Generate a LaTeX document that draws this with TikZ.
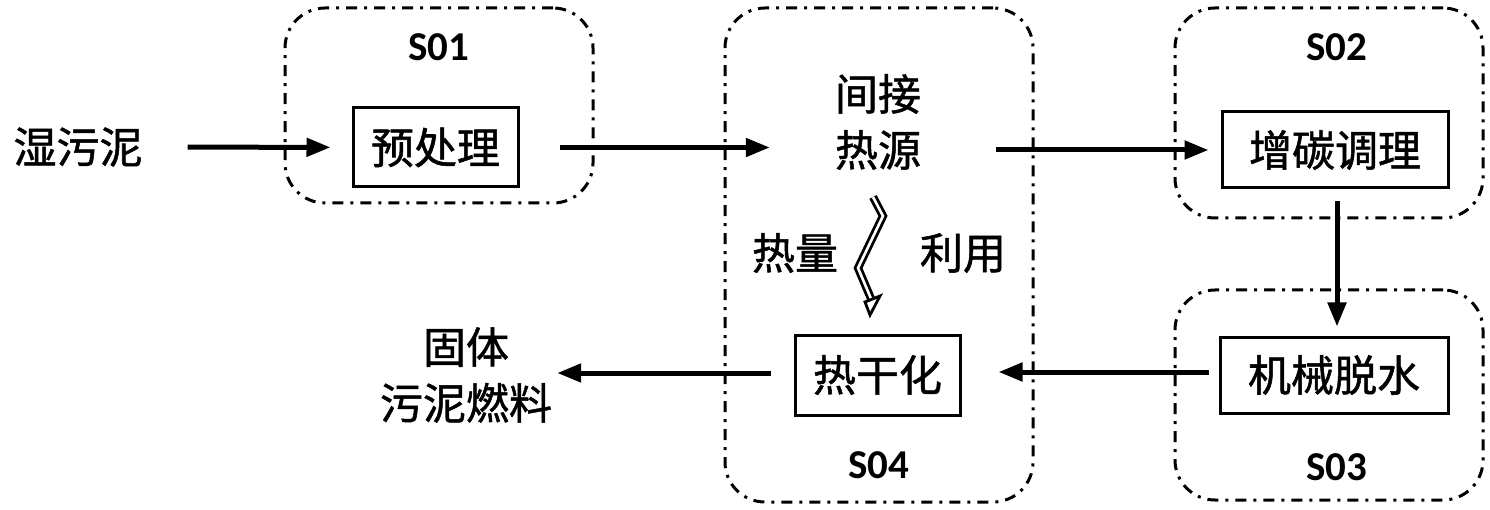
\documentclass[tikz,border=0pt]{standalone}
\usepackage{fontspec}
\setmainfont{Carlito}
\newfontfamily\cjk[FakeBold=1.2]{Noto Sans CJK SC}
\usetikzlibrary{arrows.meta}

\begin{document}
\begin{tikzpicture}[x=1pt,y=-1pt,
	stage/.style={draw,line width=3pt,rounded corners=40pt,dash pattern=on 11pt off 7pt on 3pt off 7pt,inner sep=0pt},
	proc/.style={draw,line width=3pt,inner sep=0pt,font=\cjk\fontsize{43}{56}\selectfont},
	word/.style={inner sep=0pt,align=center,font=\cjk\fontsize{43}{56}\selectfont},
	tag/.style={font=\fontsize{41}{48}\selectfont\bfseries},
	flow/.style={line width=5pt,-{Triangle[length=24pt,width=18pt]}},
	heat/.style={double=white,double distance=2.6pt,line width=2.8pt,line join=miter}]
			\useasboundingbox (0,0) rectangle (1490,510);
			% stages
			\node[stage,minimum width=308,minimum height=195] (s01) at (439,105.5) {};
			\node[stage,minimum width=308,minimum height=494] (s04) at (879,255) {};
			\node[stage,minimum width=308,minimum height=210] (s02) at (1329,113) {};
			\node[stage,minimum width=308,minimum height=210] (s03) at (1329,395) {};
			\node[tag] (t01) at (439,47) {S01};
			\node[tag] (t04) at (879,465) {S04};
			\node[tag] (t02) at (1337,47) {S02};
			\node[tag] (t03) at (1337,467) {S03};
			% steps
			\node[word] (wet) at (78,147) {湿污泥};
			\node[proc,minimum width=165,minimum height=79] (pre) at (435.5,147.5) {预处理};
			\node[word] (src) at (878,122) {间接\\热源};
			\node[proc,minimum width=226,minimum height=76] (carb) at (1335,150) {增碳调理};
			\node[proc,minimum width=228,minimum height=76] (dew) at (1334,375) {机械脱水};
			\node[proc,minimum width=165,minimum height=80] (dry) at (877.5,375) {热干化};
			\node[word] (fuel) at (466,375) {固体\\污泥燃料};
			\node[word] (use1) at (795,253) {热量};
			\node[word] (use2) at (963,253) {利用};
			% arrows
			\draw[flow,shorten <=45pt,shorten >=21pt] (wet) -- (pre);
			\draw[flow,shorten <=40pt,shorten >=65pt] (pre) -- (pre -| src.west);
			\draw[flow,shorten <=75pt,shorten >=12pt] (src.east |- carb) -- (carb);
			\draw[flow,shorten <=12pt,shorten >=9pt] (carb.south -| 1337,0) -- (dew.north -| 1337,0);
			\draw[flow,shorten <=10pt,shorten >=37pt] (dew.west |- 0,372) -- (dry.east |- 0,372);
			\draw[flow,shorten <=23pt,shorten >=5pt] (dry.west |- 0,373) -- (fuel.east |- 0,373);
			% heat
			\coordinate (hz0) at (873,197);
			\coordinate (hz1) at (883,216);
			\coordinate (hz2) at (858,268);
			\coordinate (hz3) at (872,301);
			\draw[heat] (hz0) -- (hz1) -- (hz2) -- (hz3);
			\draw[line width=2.8pt,fill=white,line join=miter] (865,302) -- (880,296) -- (870,315) -- cycle;
		\end{tikzpicture}
\end{document}
